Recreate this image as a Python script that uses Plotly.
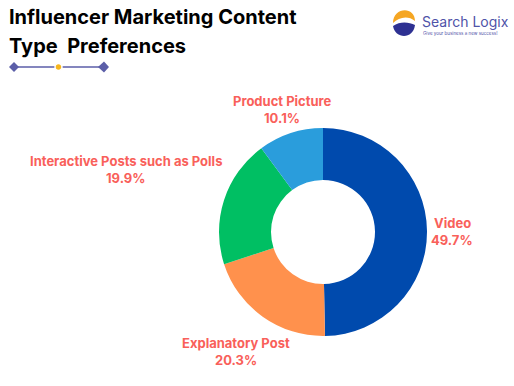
import plotly.graph_objects as go

categories = ["Video", "Explanatory Post", "Interactive Posts such as Polls", "Product Picture"]
values = [49.7, 20.3, 19.9, 10.1]
colors = ["#004AAD", "#FF914D", "#00BF63", "#2A9DDC"]

W, H = 514, 386
def px(x): return x / W
def py(y): return 1 - y / H

fig = go.Figure(go.Pie(
    labels=categories, values=values, hole=0.5, sort=False, direction="clockwise",
    rotation=0, marker=dict(colors=colors, line=dict(width=0)), textinfo="none",
    hoverinfo="label+percent", showlegend=False,
    domain=dict(x=[px(219), px(427)], y=[py(336), py(128)]),
))

label_pos = {
    "Product Picture": (282, 101, "center"),
    "Interactive Posts such as Polls": (126, 161, "center"),
    "Video": (452, 223, "center"),
    "Explanatory Post": (236, 343, "center"),
}
annotations = []
for c, v in zip(categories, values):
    x, y, al = label_pos[c]
    annotations.append(dict(x=px(x), y=py(y), xref="paper", yref="paper", text=f"<b>{c}</b>",
                            showarrow=False, font=dict(family="Inter", size=13, color="#F9605A"), xanchor=al, yanchor="middle"))
    annotations.append(dict(x=px(x), y=py(y + 17), xref="paper", yref="paper", text=f"<b>{v}%</b>",
                            showarrow=False, font=dict(family="Inter", size=13, color="#F9605A"), xanchor=al, yanchor="middle"))

# Title
annotations.append(dict(x=px(7), y=py(17), xref="paper", yref="paper", text="<b>Influencer Marketing Content</b>",
                        showarrow=False, font=dict(family="Inter", size=20, color="#000000"), xanchor="left", yanchor="middle"))
annotations.append(dict(x=px(7), y=py(46), xref="paper", yref="paper", text="<b>Type  Preferences</b>",
                        showarrow=False, font=dict(family="Inter", size=20, color="#000000"), xanchor="left", yanchor="middle"))
# Logo text
annotations.append(dict(x=px(420), y=py(22), xref="paper", yref="paper", text="Search Logix",
                        showarrow=False, font=dict(family="Inter", size=14, color="#4F53A8"), xanchor="left", yanchor="middle"))
annotations.append(dict(x=px(421), y=py(34), xref="paper", yref="paper", text="Give your business a new success!",
                        showarrow=False, font=dict(family="Inter", size=4.5, color="#4F53A8"), xanchor="left", yanchor="middle"))

deco = "#5B5EA8"
shapes = [
    dict(type="line", xref="paper", yref="paper", x0=px(14), x1=px(104), y0=py(67), y1=py(67), line=dict(color=deco, width=1.5)),
    dict(type="path", xref="paper", yref="paper",
         path=f"M {px(9)},{py(67)} L {px(14)},{py(62)} L {px(19)},{py(67)} L {px(14)},{py(72)} Z",
         fillcolor=deco, line=dict(width=0)),
    dict(type="path", xref="paper", yref="paper",
         path=f"M {px(98)},{py(67)} L {px(104)},{py(61.5)} L {px(109)},{py(67)} L {px(104)},{py(72.5)} Z",
         fillcolor=deco, line=dict(width=0)),
    dict(type="circle", xref="paper", yref="paper", x0=px(55), x1=px(62), y0=py(70.5), y1=py(63.5),
         fillcolor="#F6B61E", line=dict(color="white", width=1.5)),
    # logo icon approximations
    dict(type="path", xref="paper", yref="paper",
         path=f"M {px(393)},{py(23)} C {px(393)},{py(7)} {px(415)},{py(6)} {px(415)},{py(21)} C {px(408)},{py(15)} {px(399)},{py(17)} {px(393)},{py(23)} Z",
         fillcolor="#F5A623", line=dict(width=0)),
    dict(type="path", xref="paper", yref="paper",
         path=f"M {px(393)},{py(26)} C {px(400)},{py(21)} {px(409)},{py(22)} {px(415)},{py(25)} C {px(413)},{py(40)} {px(395)},{py(39)} {px(393)},{py(26)} Z",
         fillcolor="#2E3192", line=dict(width=0)),
]

fig.update_layout(width=W, height=H, margin=dict(l=0, r=0, t=0, b=0),
                  paper_bgcolor="white", plot_bgcolor="white",
                  annotations=annotations, shapes=shapes)
fig.write_html("out.html", config={"displayModeBar": False},
               post_script="document.body.style.margin='0px';document.body.style.overflow='hidden';")
